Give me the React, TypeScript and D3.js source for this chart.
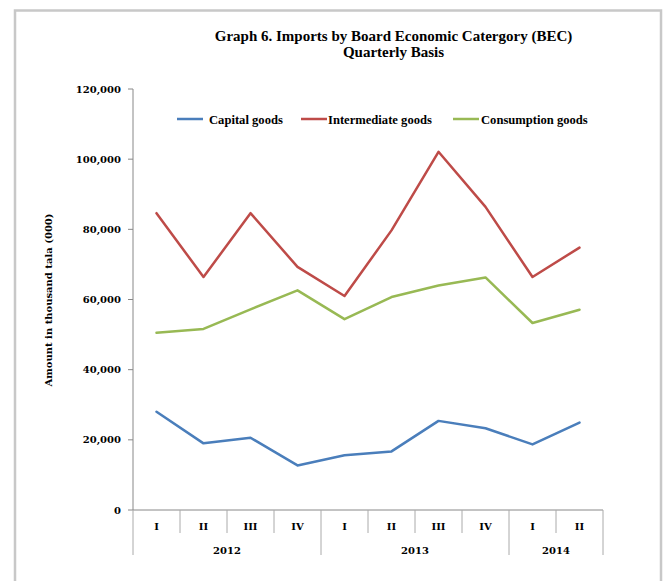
import React from "react";
import * as d3 from "d3";

const quarters = ["I", "II", "III", "IV", "I", "II", "III", "IV", "I", "II"];
const years = ["2012", "2013", "2014"];
const yearSpans = [4, 4, 2];
const seriesNames = ["Capital goods", "Intermediate goods", "Consumption goods"];
const capitalGoods = [28000, 19000, 20600, 12700, 15600, 16700, 25400, 23300, 18700, 24900];
const intermediateGoods = [84600, 66400, 84600, 69300, 61000, 79700, 102100, 86400, 66400, 74800];
const consumptionGoods = [50500, 51600, 57200, 62600, 54400, 60700, 64000, 66300, 53300, 57100];
const yTicks = [0, 20000, 40000, 60000, 80000, 100000, 120000];
const colors = ["#4A7EBB", "#BE4B48", "#98B954"];

const W = 665;
const H = 581;
const left = 133;
const right = 603;
const top = 89;
const bottom = 510;

export default function App() {
  const idx = quarters.map((_, i) => i);
  const x = d3.scaleBand<number>().domain(idx).range([left, right]).padding(0);
  const y = d3.scaleLinear().domain([0, 120000]).range([bottom, top]);
  const fmt = d3.format(",");
  const line = d3
    .line<number>()
    .x((_, i) => (x(i) as number) + x.bandwidth() / 2)
    .y((d) => y(d));
  const series = [capitalGoods, intermediateGoods, consumptionGoods];

  // year boundaries
  const boundaries: number[] = [0];
  yearSpans.forEach((s) => boundaries.push(boundaries[boundaries.length - 1] + s));
  const bx = (i: number) => (i >= quarters.length ? right : (x(i) as number));

  const serif = "'DejaVu Serif', serif";
  const lib = "'Liberation Serif', serif";

  const legendItems = [
    { lx: 177, tx: 209 },
    { lx: 301, tx: 328 },
    { lx: 453, tx: 481 },
  ];

  return (
    <svg
      width={W}
      height={H}
      style={{ position: "absolute", left: 0, top: 0, background: "#fff" }}
    >
      <rect x={15} y={10.5} width={646} height={620} fill="#fff" stroke="#c8c8c8" strokeWidth={2.5} />

      <text x={393.5} y={41} textAnchor="middle" fontFamily={lib} fontWeight="bold" fontSize={15} fill="#000">
        Graph 6. Imports by Board Economic Catergory (BEC)
      </text>
      <text x={393.5} y={57} textAnchor="middle" fontFamily={lib} fontWeight="bold" fontSize={15} fill="#000">
        Quarterly Basis
      </text>

      {/* y axis */}
      <line x1={left} x2={left} y1={top} y2={bottom} stroke="#888" strokeWidth={1} />
      {yTicks.map((t) => (
        <g key={t}>
          <line x1={left - 5} x2={left} y1={y(t)} y2={y(t)} stroke="#888" />
          <text
            x={121}
            y={y(t)}
            dy="0.35em"
            textAnchor="end"
            fontFamily={serif}
            fontWeight="bold"
            fontSize={10}
            fill="#000"
          >
            {fmt(t)}
          </text>
        </g>
      ))}
      <text
        transform={`translate(48,300) rotate(-90)`}
        textAnchor="middle"
        dy="0.35em"
        fontFamily={serif}
        fontWeight="bold"
        fontSize={10}
        fill="#000"
      >
        Amount in thousand tala (000)
      </text>

      {/* x axis */}
      <line x1={left} x2={right} y1={bottom} y2={bottom} stroke="#888" strokeWidth={1} />
      {d3.range(quarters.length + 1).map((i) => {
        const isYear = boundaries.includes(i);
        return (
          <line
            key={"d" + i}
            x1={bx(i)}
            x2={bx(i)}
            y1={bottom}
            y2={isYear ? 555 : 533}
            stroke="#aaa"
            strokeWidth={1}
          />
        );
      })}
      {quarters.map((q, i) => (
        <text
          key={"q" + i}
          x={(x(i) as number) + x.bandwidth() / 2}
          y={526}
          dy="0.35em"
          textAnchor="middle"
          fontFamily={serif}
          fontWeight="bold"
          fontSize={10}
          fill="#000"
        >
          {q}
        </text>
      ))}
      {years.map((yr, k) => {
        const a = bx(boundaries[k]);
        const b = bx(boundaries[k + 1]);
        return (
          <text
            key={yr}
            x={(a + b) / 2}
            y={550}
            dy="0.35em"
            textAnchor="middle"
            fontFamily={serif}
            fontWeight="bold"
            fontSize={10}
            fill="#000"
          >
            {yr}
          </text>
        );
      })}

      {/* series */}
      {series.map((s, k) => (
        <path
          key={k}
          d={line(s) as string}
          fill="none"
          stroke={colors[k]}
          strokeWidth={2.5}
          strokeLinejoin="round"
          strokeLinecap="round"
        />
      ))}

      {/* legend */}
      {seriesNames.map((n, k) => (
        <g key={n}>
          <line
            x1={legendItems[k].lx}
            x2={legendItems[k].lx + 26}
            y1={119}
            y2={119}
            stroke={colors[k]}
            strokeWidth={2.5}
          />
          <text
            x={legendItems[k].tx}
            y={123.5}
            fontFamily={lib}
            fontWeight="bold"
            fontSize={12.6}
            fill="#000"
          >
            {n}
          </text>
        </g>
      ))}
    </svg>
  );
}
